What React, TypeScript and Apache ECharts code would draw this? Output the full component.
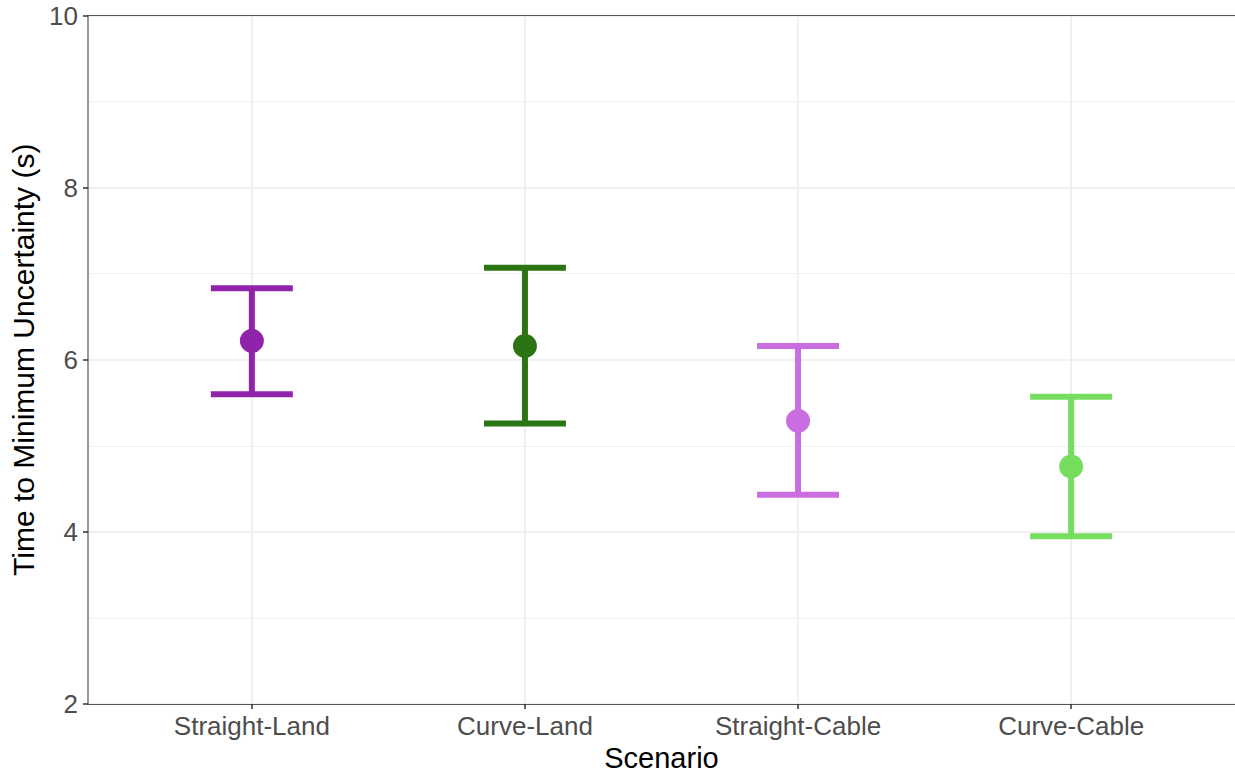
import React, { useEffect, useRef } from "react";
import * as echarts from "echarts";

const categories = ["Straight-Land", "Curve-Land", "Straight-Cable", "Curve-Cable"];
const means = [6.22, 6.16, 5.29, 4.76];
const lowerValues = [5.6, 5.26, 4.43, 3.95];
const upperValues = [6.83, 7.07, 6.16, 5.57];
const colors = ["#8f24aa", "#2b7414", "#c96ee0", "#77dd5f"];
const yTicks = [2, 4, 6, 8, 10];
const xPositions = [1, 2, 3, 4];

const FONT = "'Liberation Sans', Arial, sans-serif";

export default function App() {
  const ref = useRef<HTMLDivElement>(null);
  useEffect(() => {
    if (!ref.current) return;
    const chart = echarts.init(ref.current, null, { renderer: "svg" });
    const data = categories.map((_, i) => [xPositions[i], lowerValues[i], means[i], upperValues[i]]);
    chart.setOption({
      animation: false,
      backgroundColor: "#ffffff",
      textStyle: { fontFamily: FONT },
      grid: {
        left: 88,
        right: 0,
        top: 15.5,
        bottom: 69,
        containLabel: false,
        outerBoundsMode: "none",
      },
      xAxis: [
        {
          type: "value",
          min: 0.4,
          max: 4.6,
          name: "Scenario",
          nameLocation: "middle",
          nameGap: 38,
          nameTextStyle: { fontSize: 29, lineHeight: 29, color: "#000000", fontFamily: FONT },
          axisLine: { show: true, lineStyle: { color: "#555555", width: 1 } },
          axisTick: { show: true, length: 5, customValues: xPositions, lineStyle: { color: "#333333", width: 1.5 } },
          axisLabel: {
            customValues: xPositions,
            fontSize: 26,
            color: "#4d4d4d",
            margin: 9,
            fontFamily: FONT,
            formatter: (v: number) => categories[Math.round(v) - 1] ?? "",
          },
          splitLine: { show: false },
        },
        {
          type: "value",
          position: "top",
          min: 0.4,
          max: 4.6,
          axisLine: { show: true, lineStyle: { color: "#555555", width: 1 } },
          axisTick: { show: false },
          axisLabel: { show: false },
          splitLine: { show: false },
        },
      ],
      yAxis: {
        type: "value",
        min: 2,
        max: 10,
        interval: 2,
        name: "Time to Minimum Uncertainty (s)",
        nameLocation: "middle",
        nameGap: 46,
        nameTextStyle: { fontSize: 30, color: "#000000", fontFamily: FONT },
        axisLine: { show: true, lineStyle: { color: "#777777", width: 1.5 } },
        axisTick: { show: true, length: 5, lineStyle: { color: "#333333", width: 1.5 } },
        axisLabel: {
          fontSize: 26,
          color: "#4d4d4d",
          margin: 10,
          fontFamily: FONT,
          formatter: (v: number) => (yTicks.includes(v) ? String(v) : ""),
        },
        splitLine: { show: true, lineStyle: { color: "#ebebeb", width: 1.5 } },
        minorTick: { show: false, splitNumber: 2 },
        minorSplitLine: { show: true, lineStyle: { color: "#f2f2f2", width: 1 } },
      },
      series: [
        {
          type: "line",
          data: [],
          silent: true,
          z: 0,
          markLine: {
            silent: true,
            symbol: "none",
            z: 0,
            label: { show: false },
            lineStyle: { color: "#ebebeb", width: 1.5, type: "solid" },
            data: xPositions.map((x) => ({ xAxis: x })),
          },
        },
        {
          type: "custom",
          z: 10,
          data,
          encode: { x: 0, y: [1, 2, 3] },
          renderItem: (params: any, api: any) => {
            const x = api.value(0);
            const lo = api.value(1);
            const mid = api.value(2);
            const hi = api.value(3);
            const c = colors[params.dataIndex];
            const pHi = api.coord([x, hi]);
            const pLo = api.coord([x, lo]);
            const pMid = api.coord([x, mid]);
            const halfW = api.coord([x + 0.15, hi])[0] - pHi[0];
            const t = 6;
            return {
              type: "group",
              children: [
                {
                  type: "rect",
                  shape: { x: pHi[0] - t / 2, y: pHi[1], width: t, height: pLo[1] - pHi[1] },
                  style: { fill: c },
                },
                {
                  type: "rect",
                  shape: { x: pHi[0] - halfW, y: pHi[1] - t / 2, width: halfW * 2, height: t },
                  style: { fill: c },
                },
                {
                  type: "rect",
                  shape: { x: pLo[0] - halfW, y: pLo[1] - t / 2, width: halfW * 2, height: t },
                  style: { fill: c },
                },
                {
                  type: "circle",
                  shape: { cx: pMid[0], cy: pMid[1], r: 12 },
                  style: { fill: c },
                },
              ],
            };
          },
        },
      ],
    });
    return () => chart.dispose();
  }, []);
  return (
    <div
      ref={ref}
      style={{ position: "fixed", left: 0, top: 0, width: 1235, height: 773, background: "#fff" }}
    />
  );
}
